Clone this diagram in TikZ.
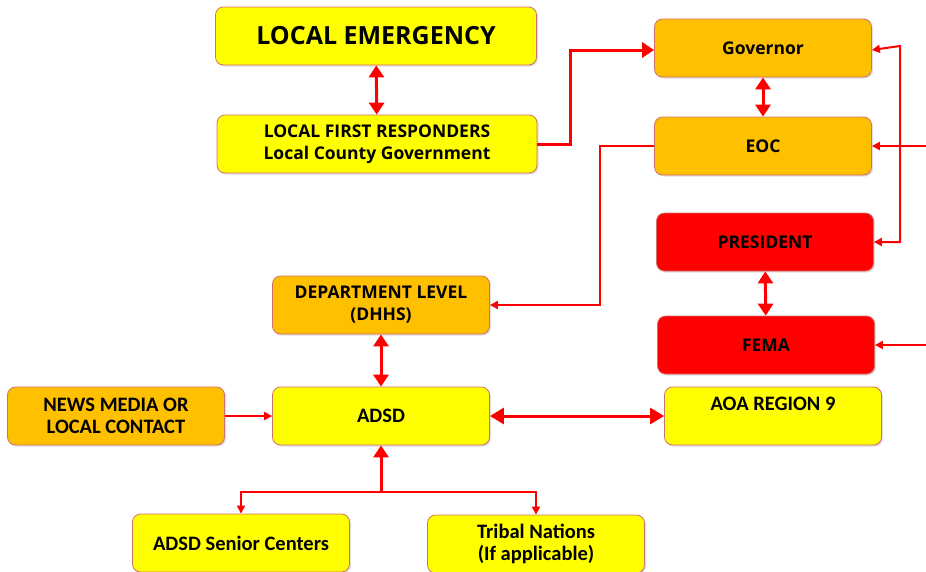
\documentclass[tikz,border=0pt]{standalone}
\usepackage{fontspec}
\setmainfont{Carlito}
\newfontfamily\widefont{Open Sans}
\usetikzlibrary{arrows.meta, positioning, shadows}
\definecolor{boxyellow}{HTML}{FFFF00}
\definecolor{boxorange}{HTML}{FFC000}
\definecolor{boxred}{HTML}{FF0000}
\definecolor{boxedge}{HTML}{D0706A}

\begin{document}
\begin{tikzpicture}[x=1pt, y=-1pt,
    box/.style={draw=boxedge, line width=0.8pt, rounded corners=8pt, minimum width=217pt, minimum height=58pt, align=center, drop shadow={opacity=0.25, shadow xshift=1.5pt, shadow yshift=-1.5pt}},
    yel/.style={box, fill=boxyellow},
    org/.style={box, fill=boxorange},
    rbox/.style={box, fill=boxred},
    wfont/.style={font=\widefont\bfseries\fontsize{17.5}{22}\selectfont},
    cfont/.style={font=\bfseries\fontsize{20.5}{21.5}\selectfont},
    link/.style={red, line width=3pt},
    thin link/.style={red, line width=2pt},
    big tip/.style={-{Triangle[length=12pt, width=15pt]}},
    twin tip/.style={{Triangle[length=12pt, width=15pt]}-{Triangle[length=12pt, width=15pt]}},
    small tip/.style={-{Triangle[length=8pt, width=8pt]}},
    small twin/.style={{Triangle[length=8pt, width=8pt]}-{Triangle[length=8pt, width=8pt]}}]
    \useasboundingbox (0,0) rectangle (926,571);
    % Emergency notification chain
    \node[yel, minimum width=321pt, font=\widefont\bfseries\fontsize{25}{28}\selectfont] (emerg) at (376,36) {LOCAL EMERGENCY};
    \node[yel, minimum width=320pt, wfont] (first) at (377,144) {LOCAL FIRST RESPONDERS\\Local County Government};
    \node[org, wfont] (gov) at (763,48) {Governor};
    \node[org, wfont] (eoc) at (763,146) {EOC};
    \node[rbox, wfont] (pres) at (765,242) {PRESIDENT};
    \node[rbox, wfont] (fema) at (766,345) {FEMA};
    \node[org, wfont] (dept) at (381,305) {DEPARTMENT LEVEL\\(DHHS)};
    \node[org, cfont] (news) at (116,416) {NEWS MEDIA OR\\LOCAL CONTACT};
    \node[yel, cfont] (adsd) at (381,416) {ADSD};
    \node[yel, cfont] (aoa) at (773,416) {AOA REGION 9\\[2pt]~};
    \node[yel, cfont] (senior) at (241,543) {ADSD Senior Centers};
    \node[yel, cfont] (tribal) at (536,544) {Tribal Nations\\(If applicable)};

    \coordinate (rtop) at (900,46);
    \coordinate (eocin) at (926,146);
    \coordinate (femain) at (926,345);
    \coordinate (fork) at (381,492);

    \draw[link, twin tip] (emerg) -- (first);
    \draw[link, big tip] (first.east) -- ++(33,0) |- ([yshift=-2pt]gov.west);
    \draw[link, twin tip] (gov) -- (eoc);
    \draw[thin link, small tip] (eoc.west) -- ++(-54,0) |- (dept.east);
    \draw[thin link, small twin] ([yshift=-2pt]gov.east) -- (rtop) |- (pres.east);
    \draw[thin link, small tip] (eocin) -- (eoc.east);
    \draw[link, twin tip] (pres) -- (fema);
    \draw[thin link, small tip] (femain) -- (fema.east);
    \draw[link, twin tip] (dept) -- (adsd);
    \draw[thin link, small tip] (news) -- (adsd);
    \draw[link, {Triangle[length=14pt, width=16pt]}-{Triangle[length=14pt, width=16pt]}] (adsd) -- (aoa.west |- adsd);
    \draw[link, big tip] (fork) -- (adsd);
    \draw[thin link, small tip] (fork) -| (senior);
    \draw[thin link, small tip] (fork) -| (tribal);
\end{tikzpicture}
\end{document}
